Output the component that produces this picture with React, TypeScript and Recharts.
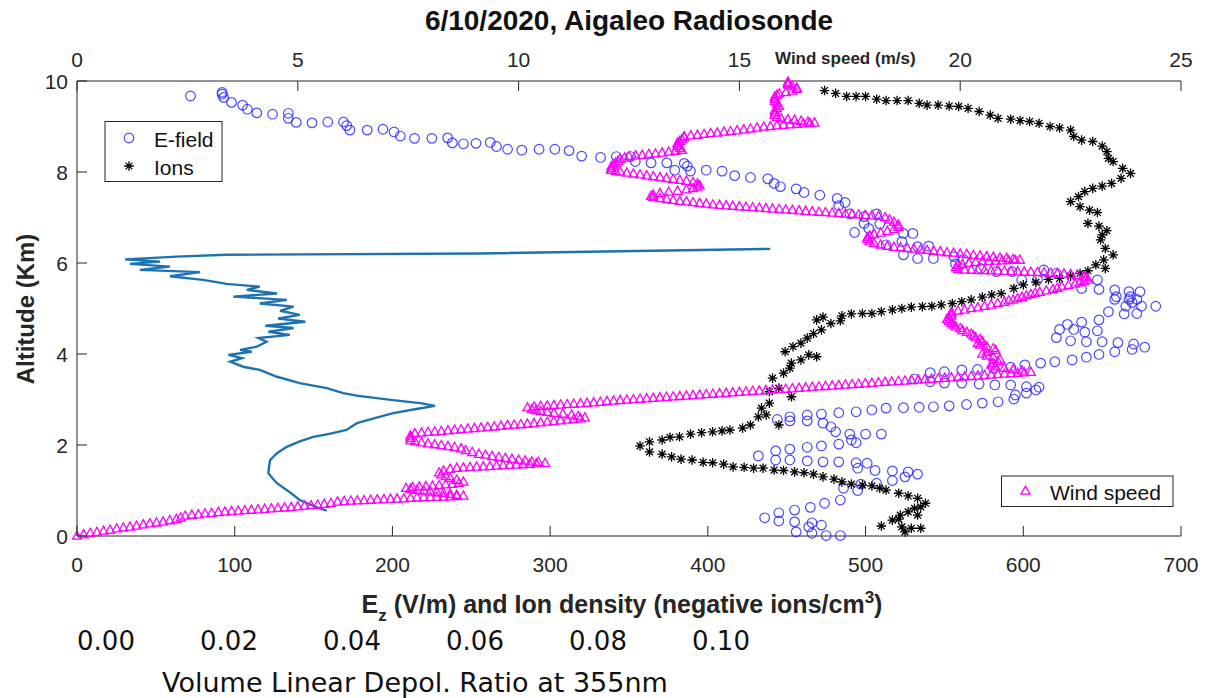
import { ScatterChart, Scatter, XAxis, YAxis } from 'recharts'

const W = 1214
const H = 698
const FONT = '"Liberation Sans", Arial, Helvetica, sans-serif'
const DEJAVU = '"DejaVu Sans", Verdana, sans-serif'
const AXIS = '#262626'
const EFIELD_COLOR = '#2b2bff'
const IONS_COLOR = '#000000'
const WIND_COLOR = '#ff00ff'
const DEPOL_COLOR = '#1f72b0'

const altTicks = [0, 2, 4, 6, 8, 10]
const ezTicks = [0, 100, 200, 300, 400, 500, 600, 700]
const windTicks = [0, 5, 10, 15, 20, 25]
const depolTicks = [0, 0.02, 0.04, 0.06, 0.08, 0.1]

// [Ez (V/m), altitude km]
const efield: [number, number][] = [
  [72, 9.67], [92, 9.75], [92, 9.71], [93, 9.64], [98, 9.53], [105, 9.47], [108, 9.38], [114, 9.3],
  [124, 9.27], [134, 9.29], [134, 9.18], [139, 9.09], [149, 9.08], [159, 9.1], [169, 9.1], [171, 9.02],
  [173, 8.92], [184, 8.92], [194, 8.94], [201, 8.88], [205, 8.79], [214, 8.74], [225, 8.74], [235, 8.75],
  [238, 8.64], [245, 8.62], [253, 8.63], [262, 8.65], [266, 8.56], [273, 8.5], [282, 8.48], [293, 8.5],
  [303, 8.5], [312, 8.47], [320, 8.35], [332, 8.32], [342, 8.34], [351, 8.34], [354, 8.23], [364, 8.2],
  [374, 8.2], [379, 8.04], [385, 8.19], [387, 8.13], [389, 8.02], [399, 8.04], [409, 8.02], [417, 7.92],
  [427, 7.88], [438, 7.85], [442, 7.75], [446, 7.68], [456, 7.63], [461, 7.55], [471, 7.49], [482, 7.42],
  [483, 7.26], [487, 7.33], [490, 7.08], [499, 7.02], [499, 6.87], [507, 7.08], [509, 6.86], [493, 6.67],
  [502, 6.76], [513, 6.4], [524, 6.65], [530, 6.65], [523, 6.47], [524, 6.18], [533, 6.36], [540, 6.37],
  [533, 6.1], [543, 6.1], [556, 6.14], [557, 5.98], [562, 6.08], [573, 5.88], [583, 5.81], [593, 5.81],
  [599, 5.63], [609, 5.63], [613, 5.85], [621, 5.77], [637, 5.44], [647, 5.63], [648, 5.42], [658, 5.41],
  [659, 5.26], [667, 5.37], [674, 5.37], [668, 5.26], [665, 5.05], [672, 5.2], [675, 5.05], [684, 5.05],
  [654, 4.93], [664, 4.88], [672, 4.89], [658, 5.2], [667, 5.2], [669, 5.13], [648, 4.75], [637, 4.7],
  [628, 4.65], [632, 4.54], [623, 4.54], [647, 4.51], [639, 4.48], [621, 4.36], [630, 4.29], [640, 4.27],
  [650, 4.27], [660, 4.25], [670, 4.22], [677, 4.15], [669, 4.1], [658, 4.05], [648, 3.99], [640, 3.93],
  [631, 3.87], [620, 3.83], [611, 3.8], [601, 3.76], [592, 3.71], [581, 3.69], [571, 3.66], [561, 3.65],
  [550, 3.61], [541, 3.59], [531, 3.45], [541, 3.39], [550, 3.36], [561, 3.36], [572, 3.34], [582, 3.32],
  [592, 3.32], [602, 3.28], [610, 3.27], [608, 3.21], [602, 3.14], [595, 3.1], [594, 3.01], [584, 2.95],
  [574, 2.92], [564, 2.89], [553, 2.86], [543, 2.84], [534, 2.83], [524, 2.82], [513, 2.81], [504, 2.77],
  [494, 2.73], [483, 2.71], [472, 2.68], [463, 2.66], [452, 2.62], [444, 2.56], [452, 2.53], [463, 2.53],
  [473, 2.48], [478, 2.4], [481, 2.29], [490, 2.24], [500, 2.24], [510, 2.24], [491, 2.11], [494, 2.05],
  [483, 2.02], [472, 1.98], [463, 1.95], [452, 1.91], [443, 1.87], [432, 1.76], [443, 1.67], [452, 1.67],
  [463, 1.65], [473, 1.63], [483, 1.63], [494, 1.61], [501, 1.6], [495, 1.49], [506, 1.44], [517, 1.43],
  [527, 1.41], [533, 1.36], [525, 1.3], [517, 1.22], [507, 1.16], [497, 1.14], [486, 1.05], [495, 1.0],
  [484, 0.79], [474, 0.72], [465, 0.63], [455, 0.57], [445, 0.51], [436, 0.4], [445, 0.33], [455, 0.31],
  [466, 0.29], [472, 0.24], [464, 0.2], [456, 0.09], [466, 0.06], [475, 0.01], [484, 0.01],
]

// [negative ions/cm3, altitude km]
const ions: [number, number][] = [
  [474, 9.79], [481, 9.73], [488, 9.66], [494, 9.66], [500, 9.66], [507, 9.6], [513, 9.57], [520, 9.57],
  [527, 9.57], [534, 9.51], [539, 9.47], [546, 9.47], [553, 9.45], [559, 9.44], [565, 9.4], [572, 9.33],
  [579, 9.25], [584, 9.18], [592, 9.16], [598, 9.13], [604, 9.11], [610, 9.07], [617, 9.0], [623, 8.97],
  [630, 8.92], [632, 8.78], [637, 8.7], [644, 8.67], [650, 8.57], [653, 8.45], [654, 8.3], [657, 8.23],
  [663, 8.08], [668, 7.97], [662, 7.86], [656, 7.75], [650, 7.69], [644, 7.64], [639, 7.57], [635, 7.46],
  [630, 7.35], [636, 7.24], [642, 7.16], [647, 7.11], [641, 6.87], [648, 6.81], [653, 6.71], [650, 6.62],
  [649, 6.51], [652, 6.32], [657, 6.18], [651, 6.07], [652, 5.88], [646, 5.96], [641, 5.83], [636, 5.77],
  [630, 5.71], [623, 5.66], [616, 5.64], [608, 5.58], [600, 5.52], [594, 5.44], [586, 5.33], [580, 5.3],
  [574, 5.25], [567, 5.19], [561, 5.15], [555, 5.11], [548, 5.08], [542, 5.05], [536, 5.04], [529, 5.03],
  [523, 5.0], [517, 4.97], [510, 4.93], [504, 4.89], [498, 4.89], [491, 4.88], [485, 4.84], [484, 4.73],
  [473, 4.81], [478, 4.67], [469, 4.75], [472, 4.53], [467, 4.45], [463, 4.35], [459, 4.24], [454, 4.16],
  [449, 4.05], [464, 3.98], [469, 3.94], [459, 3.87], [453, 3.8], [452, 3.69], [448, 3.58], [441, 3.47],
  [445, 3.25], [439, 3.17], [453, 3.06], [439, 2.92], [434, 2.81], [437, 2.66], [432, 2.62], [445, 2.44],
  [427, 2.44], [422, 2.37], [414, 2.33], [409, 2.31], [403, 2.29], [396, 2.27], [389, 2.24], [382, 2.18],
  [376, 2.17], [371, 2.11], [363, 2.07], [357, 1.98], [363, 1.85], [371, 1.8], [377, 1.74], [383, 1.69],
  [390, 1.67], [397, 1.62], [403, 1.61], [410, 1.58], [416, 1.52], [423, 1.51], [429, 1.49], [435, 1.49],
  [442, 1.45], [448, 1.44], [455, 1.41], [461, 1.39], [467, 1.36], [473, 1.3], [480, 1.25], [485, 1.19],
  [491, 1.14], [498, 1.12], [504, 1.1], [509, 1.05], [513, 1.01], [521, 0.94], [527, 0.88], [533, 0.83],
  [538, 0.72], [535, 0.64], [531, 0.61], [527, 0.53], [522, 0.46], [533, 0.46], [521, 0.37], [517, 0.35],
  [510, 0.22], [523, 0.2], [529, 0.17], [535, 0.17], [525, 0.09],
]

// [wind speed m/s, altitude km] - dense radiosonde samples
const wind: [number, number][] = [
  [0, 0], [0.15, 0.03], [0.3, 0.06], [0.45, 0.08], [0.6, 0.11], [0.75, 0.13], [0.9, 0.16], [1.05, 0.18],
  [1.2, 0.2], [1.35, 0.22], [1.5, 0.25], [1.65, 0.27], [1.8, 0.29], [1.95, 0.31], [2.1, 0.34], [2.25, 0.37],
  [2.35, 0.4], [2.45, 0.44], [2.6, 0.46], [2.75, 0.47], [2.9, 0.49], [3.05, 0.5], [3.2, 0.52], [3.35, 0.53],
  [3.5, 0.54], [3.65, 0.55], [3.8, 0.56], [3.95, 0.57], [4.1, 0.58], [4.25, 0.59], [4.4, 0.6], [4.55, 0.61],
  [4.7, 0.62], [4.85, 0.63], [5.0, 0.645], [5.15, 0.66], [5.3, 0.67], [5.45, 0.68], [5.6, 0.7], [5.75, 0.72],
  [5.9, 0.75], [6.05, 0.76], [6.2, 0.77], [6.35, 0.775], [6.5, 0.78], [6.65, 0.79], [6.8, 0.8], [6.95, 0.805],
  [7.1, 0.81], [7.25, 0.815], [7.4, 0.82], [7.55, 0.83], [7.7, 0.84], [7.85, 0.845], [8.0, 0.85], [8.15, 0.855],
  [8.3, 0.86], [8.45, 0.865], [8.6, 0.87], [8.75, 0.88],
  [8.6, 0.9], [8.45, 0.92], [8.3, 0.94], [8.15, 0.955], [8.0, 0.97], [7.85, 0.99], [7.7, 1.01], [7.55, 1.03],
  [7.45, 1.05], [7.6, 1.07], [7.75, 1.08], [7.9, 1.09], [8.05, 1.1], [8.2, 1.11], [8.35, 1.13], [8.5, 1.14],
  [8.65, 1.16], [8.75, 1.19], [8.6, 1.23], [8.45, 1.27], [8.35, 1.31], [8.25, 1.35], [8.2, 1.39], [8.3, 1.43],
  [8.45, 1.47],
  [8.6, 1.49], [8.75, 1.5], [8.9, 1.51], [9.05, 1.52], [9.2, 1.525], [9.35, 1.53], [9.5, 1.54], [9.65, 1.55],
  [9.8, 1.555], [9.95, 1.56], [10.1, 1.57], [10.25, 1.58], [10.4, 1.59], [10.6, 1.6],
  [10.45, 1.62], [10.3, 1.63], [10.15, 1.65], [10.0, 1.67], [9.85, 1.69], [9.7, 1.71], [9.55, 1.73], [9.4, 1.75],
  [9.25, 1.78], [9.1, 1.8], [8.95, 1.84], [8.8, 1.88], [8.7, 1.92], [8.55, 1.95], [8.4, 1.97], [8.25, 1.99],
  [8.1, 2.01], [7.95, 2.03], [7.8, 2.05], [7.65, 2.08], [7.55, 2.1], [7.55, 2.15], [7.55, 2.2], [7.65, 2.25],
  [7.8, 2.265], [7.95, 2.28], [8.1, 2.29], [8.25, 2.3], [8.4, 2.315], [8.55, 2.33], [8.7, 2.34], [8.85, 2.355],
  [9.0, 2.365], [9.15, 2.375], [9.3, 2.39], [9.45, 2.4], [9.6, 2.415], [9.75, 2.43], [9.9, 2.44], [10.05, 2.45],
  [10.2, 2.46], [10.35, 2.475], [10.5, 2.49], [10.65, 2.505], [10.8, 2.52], [10.95, 2.535], [11.1, 2.55],
  [11.25, 2.565], [11.4, 2.58], [11.5, 2.6],
  [11.35, 2.63], [11.2, 2.66], [11.0, 2.68], [10.8, 2.7], [10.65, 2.72], [10.5, 2.74], [10.4, 2.76], [10.3, 2.78],
  [10.2, 2.82],
  [10.35, 2.84], [10.5, 2.85], [10.65, 2.86], [10.8, 2.87], [10.95, 2.88], [11.1, 2.89], [11.25, 2.9], [11.4, 2.91],
  [11.55, 2.92], [11.7, 2.93], [11.85, 2.94], [12.0, 2.96], [12.15, 2.97], [12.3, 2.98], [12.45, 2.99], [12.6, 3.0],
  [12.75, 3.01], [12.9, 3.02], [13.05, 3.03], [13.2, 3.04], [13.35, 3.05], [13.5, 3.06], [13.65, 3.07], [13.8, 3.08],
  [13.95, 3.09], [14.1, 3.1], [14.25, 3.11], [14.4, 3.12], [14.55, 3.13], [14.7, 3.14], [14.85, 3.15], [15.0, 3.16],
  [15.15, 3.17], [15.3, 3.18], [15.45, 3.19], [15.6, 3.2], [15.75, 3.21], [15.9, 3.22], [16.05, 3.23], [16.2, 3.24],
  [16.35, 3.25], [16.5, 3.26], [16.65, 3.27], [16.8, 3.28], [16.95, 3.29], [17.1, 3.3], [17.25, 3.31], [17.4, 3.32],
  [17.55, 3.33], [17.7, 3.34], [17.85, 3.35], [18.0, 3.36], [18.15, 3.37], [18.3, 3.38], [18.45, 3.39], [18.6, 3.4],
  [18.75, 3.41], [18.9, 3.42], [19.05, 3.43], [19.2, 3.44], [19.35, 3.45], [19.5, 3.46], [19.65, 3.47], [19.8, 3.48],
  [19.95, 3.49], [20.1, 3.5], [20.25, 3.51], [20.4, 3.52], [20.55, 3.53], [20.7, 3.54], [20.85, 3.55], [21.0, 3.56],
  [21.15, 3.57], [21.3, 3.58], [21.45, 3.59], [21.6, 3.6],
  [21.4, 3.63], [21.2, 3.66], [21.0, 3.69], [20.8, 3.72], [20.7, 3.76], [20.75, 3.8], [20.85, 3.84], [20.9, 3.88],
  [20.75, 3.92], [20.6, 3.96], [20.5, 4.0], [20.6, 4.04], [20.8, 4.08], [20.75, 4.12], [20.6, 4.16], [20.45, 4.2],
  [20.4, 4.24], [20.5, 4.28], [20.45, 4.32], [20.35, 4.36], [20.3, 4.4], [20.25, 4.44], [20.15, 4.48], [20.05, 4.52],
  [20.0, 4.56], [19.9, 4.6], [19.85, 4.64], [19.8, 4.68], [19.75, 4.72], [19.7, 4.76], [19.75, 4.8], [19.8, 4.84],
  [19.8, 4.88], [19.8, 4.92],
  [19.95, 4.95], [20.1, 4.97], [20.25, 5.0], [20.4, 5.02], [20.55, 5.05], [20.7, 5.08], [20.85, 5.11], [21.0, 5.14],
  [21.1, 5.17], [21.2, 5.19], [21.3, 5.22], [21.4, 5.25], [21.5, 5.28], [21.6, 5.31], [21.7, 5.34], [21.8, 5.36],
  [21.95, 5.39], [22.1, 5.42], [22.2, 5.45], [22.3, 5.48], [22.45, 5.51], [22.6, 5.54], [22.7, 5.57], [22.8, 5.6],
  [22.9, 5.63],
  [22.85, 5.67], [22.8, 5.7], [22.65, 5.73], [22.5, 5.75], [22.35, 5.76], [22.2, 5.77], [22.05, 5.78], [21.9, 5.79],
  [21.75, 5.795], [21.6, 5.8], [21.45, 5.805], [21.3, 5.81], [21.15, 5.815], [21.0, 5.82], [20.85, 5.825],
  [20.7, 5.83], [20.55, 5.835], [20.4, 5.84], [20.25, 5.845], [20.1, 5.85], [19.95, 5.86], [19.9, 5.9],
  [19.95, 5.94], [20.05, 5.97], [20.2, 6.0], [20.35, 6.02], [20.5, 6.03], [20.65, 6.04], [20.8, 6.045],
  [20.95, 6.05], [21.1, 6.055], [21.25, 6.06], [21.35, 6.065],
  [21.2, 6.08], [21.05, 6.1], [20.9, 6.11], [20.75, 6.13], [20.6, 6.14], [20.45, 6.16], [20.3, 6.17], [20.15, 6.19],
  [20.0, 6.2], [19.85, 6.22], [19.7, 6.23], [19.55, 6.25], [19.4, 6.26], [19.25, 6.28], [19.1, 6.29], [18.95, 6.31],
  [18.8, 6.32], [18.65, 6.34], [18.5, 6.35], [18.35, 6.37], [18.2, 6.4], [18.05, 6.43], [17.95, 6.47], [17.9, 6.52],
  [17.9, 6.56], [17.95, 6.6],
  [18.05, 6.63], [18.2, 6.66], [18.35, 6.7], [18.5, 6.74], [18.6, 6.79], [18.6, 6.84], [18.5, 6.9], [18.4, 6.95],
  [18.3, 7.0], [18.15, 7.03], [18.0, 7.04], [17.85, 7.05], [17.7, 7.06], [17.55, 7.07], [17.4, 7.08], [17.25, 7.09],
  [17.1, 7.1], [16.95, 7.11], [16.8, 7.12], [16.65, 7.13], [16.5, 7.14], [16.35, 7.15], [16.2, 7.16], [16.05, 7.17],
  [15.9, 7.18],
  [15.75, 7.19], [15.6, 7.2], [15.45, 7.21], [15.3, 7.22], [15.15, 7.23], [15.0, 7.24], [14.85, 7.25], [14.7, 7.26],
  [14.55, 7.27], [14.4, 7.28], [14.25, 7.3], [14.1, 7.31], [13.95, 7.33], [13.8, 7.35], [13.65, 7.36], [13.5, 7.38],
  [13.35, 7.4], [13.2, 7.42], [13.05, 7.44], [13.0, 7.47],
  [13.05, 7.5], [13.2, 7.53], [13.4, 7.56], [13.6, 7.58], [13.8, 7.61], [13.95, 7.64], [14.05, 7.67], [14.1, 7.7],
  [14.05, 7.74], [13.95, 7.77], [13.8, 7.8],
  [13.65, 7.82], [13.5, 7.84], [13.35, 7.86], [13.2, 7.88], [13.05, 7.9], [12.9, 7.92], [12.75, 7.94], [12.6, 7.96],
  [12.45, 7.98], [12.3, 8.0], [12.2, 8.02], [12.1, 8.04],
  [12.1, 8.08], [12.1, 8.12], [12.15, 8.16], [12.2, 8.2], [12.25, 8.24], [12.3, 8.28], [12.4, 8.31], [12.5, 8.34],
  [12.65, 8.36], [12.8, 8.37], [12.95, 8.39], [13.1, 8.4], [13.25, 8.42], [13.4, 8.44], [13.55, 8.46], [13.7, 8.48],
  [13.65, 8.52], [13.6, 8.56], [13.6, 8.6], [13.6, 8.64], [13.65, 8.68], [13.7, 8.72], [13.75, 8.76], [13.75, 8.78],
  [13.9, 8.8], [14.05, 8.81], [14.2, 8.83], [14.35, 8.85], [14.5, 8.86], [14.65, 8.88], [14.8, 8.89], [14.95, 8.91],
  [15.1, 8.93], [15.25, 8.95], [15.4, 8.97], [15.55, 8.99], [15.7, 9.0], [15.85, 9.02], [16.0, 9.03], [16.15, 9.04],
  [16.3, 9.05], [16.45, 9.06], [16.6, 9.07], [16.7, 9.08],
  [16.55, 9.1], [16.4, 9.12], [16.25, 9.14], [16.1, 9.15], [15.95, 9.17], [15.85, 9.2], [15.8, 9.25], [15.8, 9.3],
  [15.8, 9.35], [15.85, 9.4], [15.9, 9.45], [15.85, 9.5], [15.8, 9.55], [15.8, 9.6], [15.8, 9.65], [15.85, 9.69],
  [15.9, 9.72], [16.05, 9.75], [16.2, 9.78], [16.3, 9.82], [16.3, 9.85], [16.2, 9.89], [16.1, 9.92], [16.1, 9.95],
  [16.1, 9.98],
]

// [volume linear depolarization ratio, altitude km]
const depol: [number, number][] = [
  [0.0359, 0.56], [0.0345, 0.62], [0.0315, 0.79], [0.03, 0.95], [0.0278, 1.16], [0.027, 1.28], [0.0264, 1.38],
  [0.0265, 1.52], [0.0267, 1.67], [0.0278, 1.82], [0.0294, 1.96], [0.0315, 2.08], [0.0337, 2.18], [0.0365, 2.25],
  [0.0391, 2.33], [0.0408, 2.48], [0.044, 2.6], [0.0467, 2.7], [0.05, 2.78], [0.0535, 2.86], [0.0511, 2.92],
  [0.047, 2.98], [0.044, 3.03], [0.041, 3.08], [0.0386, 3.14], [0.0359, 3.25], [0.0315, 3.36], [0.0278, 3.5],
  [0.025, 3.65], [0.0223, 3.72], [0.0202, 3.83], [0.0221, 3.91], [0.0199, 3.98], [0.0237, 4.05], [0.0218, 4.09],
  [0.0245, 4.16], [0.0261, 4.27], [0.0248, 4.35], [0.0299, 4.42], [0.0264, 4.49], [0.0305, 4.57],
  [0.0259, 4.62], [0.0324, 4.71], [0.028, 4.78], [0.0315, 4.86], [0.0283, 4.95], [0.0305, 5.04],
  [0.025, 5.11], [0.0294, 5.19], [0.0207, 5.26], [0.0278, 5.33], [0.0229, 5.41], [0.025, 5.48],
  [0.0196, 5.54], [0.0158, 5.63], [0.0104, 5.71], [0.0153, 5.8], [0.0055, 5.85], [0.0104, 5.92],
  [0.0039, 5.98], [0.0088, 6.03], [0.0031, 6.08], [0.0115, 6.14], [0.0196, 6.18], [0.0608, 6.21],
  [0.108, 6.31],
]

const toPoints = (rows: [number, number][]) => rows.map(([x, alt]) => ({ x, alt }))

function OpenCircle({ cx, cy }: any) {
  return <circle cx={cx} cy={cy} r={4.8} fill="none" stroke={EFIELD_COLOR} strokeWidth={1.2} strokeOpacity={0.85} />
}

function Asterisk({ cx, cy }: any) {
  const r = 4.8
  const d = 3.4
  return (
    <path
      d={`M${cx - r},${cy}H${cx + r}M${cx},${cy - r}V${cy + r}M${cx - d},${cy - d}L${cx + d},${cy + d}M${cx - d},${cy + d}L${cx + d},${cy - d}`}
      stroke={IONS_COLOR}
      strokeWidth={1.3}
    />
  )
}

function Triangle({ cx, cy }: any) {
  return (
    <path
      d={`M${cx},${cy - 5}L${cx - 4.5},${cy + 3.2}L${cx + 4.5},${cy + 3.2}Z`}
      fill="none"
      stroke={WIND_COLOR}
      strokeWidth={1.3}
    />
  )
}

const NoDot = () => <g />

function BottomTick({ x, y, payload }: any) {
  return (
    <g>
      <line x1={x} y1={y} x2={x} y2={y - 10} stroke={AXIS} />
      <text x={x} y={y + 36} textAnchor="middle" fontSize={21} fill={AXIS} fontFamily={FONT}>
        {payload.value}
      </text>
    </g>
  )
}

function TopTick({ x, y, payload }: any) {
  return (
    <g>
      <line x1={x} y1={y} x2={x} y2={y + 10} stroke={AXIS} />
      <text x={x} y={y - 14} textAnchor="middle" fontSize={21} fill={AXIS} fontFamily={FONT}>
        {payload.value}
      </text>
    </g>
  )
}

function LeftTick({ x, y, payload }: any) {
  return (
    <g>
      <line x1={x} y1={y} x2={x + 10} y2={y} stroke={AXIS} />
      <text x={x - 9} y={y + 8} textAnchor="end" fontSize={21} fill={AXIS} fontFamily={FONT}>
        {payload.value}
      </text>
    </g>
  )
}

function DepolTick({ x, y, payload }: any) {
  return (
    <text x={x} y={y + 24} textAnchor="middle" fontSize={26} fill="#111" fontFamily={DEJAVU}>
      {Number(payload.value).toFixed(2)}
    </text>
  )
}

function Legends() {
  return (
    <svg width={W} height={H} style={{ position: 'absolute', left: 0, top: 0, pointerEvents: 'none' }}>
      <text x={629} y={30} textAnchor="middle" fontSize={28} fontWeight="bold" fill="#111" fontFamily={FONT}>
        6/10/2020, Aigaleo Radiosonde
      </text>
      <rect x={105} y={121.5} width={117} height={60} fill="#fff" stroke={AXIS} strokeWidth={1} />
      <OpenCircle cx={129} cy={138} />
      <text x={154} y={147} fontSize={21} fill="#111" fontFamily={FONT}>E-field</text>
      <Asterisk cx={129} cy={166} />
      <text x={154} y={175} fontSize={21} fill="#111" fontFamily={FONT}>Ions</text>
      <rect x={1001.5} y={476} width={171.5} height={30.5} fill="#fff" stroke={AXIS} strokeWidth={1} />
      <Triangle cx={1025.5} cy={491} />
      <text x={1050} y={500} fontSize={21} fill="#111" fontFamily={FONT}>Wind speed</text>
    </svg>
  )
}

export default function App() {
  const depolLeft = -0.004715
  const depolRight = 0.174797
  return (
    <div style={{ position: 'absolute', left: 0, top: 0, width: W, height: H, background: '#fff' }}>
      <ScatterChart width={W} height={H} margin={{ top: 40, right: 33, bottom: 0, left: 0 }}>
        <YAxis
          yAxisId="alt"
          dataKey="alt"
          type="number"
          domain={[0, 10]}
          ticks={altTicks}
          interval={0}
          width={77}
          tickSize={0}
          tickMargin={0}
          tick={(p: any) => <LeftTick {...p} />}
          axisLine={{ stroke: AXIS }}
          label={() => (
            <text
              transform="translate(26,309) rotate(-90)"
              textAnchor="middle"
              dy="0.35em"
              fontSize={24}
              fontWeight="bold"
              fill={AXIS}
              fontFamily={FONT}
            >
              Altitude (Km)
            </text>
          )}
        />
        <XAxis
          xAxisId="axisB"
          dataKey="x"
          type="number"
          orientation="bottom"
          domain={[depolLeft, depolRight]}
          allowDataOverflow
          ticks={depolTicks}
          interval={0}
          height={72}
          tickSize={0}
          tickMargin={0}
          tick={(p: any) => <DepolTick {...p} />}
          axisLine={false}
          label={() => (
            <text x={415} y={692} textAnchor="middle" fontSize={27} fill="#111" fontFamily={DEJAVU}>
              Volume Linear Depol. Ratio at 355nm
            </text>
          )}
        />
        <XAxis
          xAxisId="axisA"
          dataKey="x"
          type="number"
          orientation="bottom"
          domain={[0, 700]}
          ticks={ezTicks}
          interval={0}
          height={90}
          tickSize={0}
          tickMargin={0}
          tick={(p: any) => <BottomTick {...p} />}
          axisLine={{ stroke: AXIS }}
          label={() => (
            <text x={622} y={613} textAnchor="middle" fontSize={25} fontWeight="bold" fill={AXIS} fontFamily={FONT}>
              E<tspan fontSize={17} dy={8}>z</tspan>
              <tspan dy={-8}> (V/m) and Ion density (negative ions/cm</tspan>
              <tspan fontSize={17} dy={-10}>3</tspan>
              <tspan dy={10}>)</tspan>
            </text>
          )}
        />
        <XAxis
          xAxisId="wind"
          dataKey="x"
          type="number"
          orientation="top"
          domain={[0, 25]}
          ticks={windTicks}
          interval={0}
          height={41}
          tickSize={0}
          tickMargin={0}
          tick={(p: any) => <TopTick {...p} />}
          axisLine={{ stroke: AXIS }}
          label={() => (
            <text x={775} y={64} fontSize={17} fontWeight="bold" fill={AXIS} fontFamily={FONT}>
              Wind speed (m/s)
            </text>
          )}
        />
        <Scatter
          name="Depol"
          data={toPoints(depol)}
          xAxisId="axisB"
          yAxisId="alt"
          line={{ stroke: DEPOL_COLOR, strokeWidth: 2.4 }}
          lineJointType="linear"
          shape={NoDot}
          isAnimationActive={false}
        />
        <Scatter name="E-field" data={toPoints(efield)} xAxisId="axisA" yAxisId="alt" shape={OpenCircle} isAnimationActive={false} />
        <Scatter name="Ions" data={toPoints(ions)} xAxisId="axisA" yAxisId="alt" shape={Asterisk} isAnimationActive={false} />
        <Scatter name="Wind speed" data={toPoints(wind)} xAxisId="wind" yAxisId="alt" shape={Triangle} isAnimationActive={false} />
      </ScatterChart>
      <Legends />
    </div>
  )
}
